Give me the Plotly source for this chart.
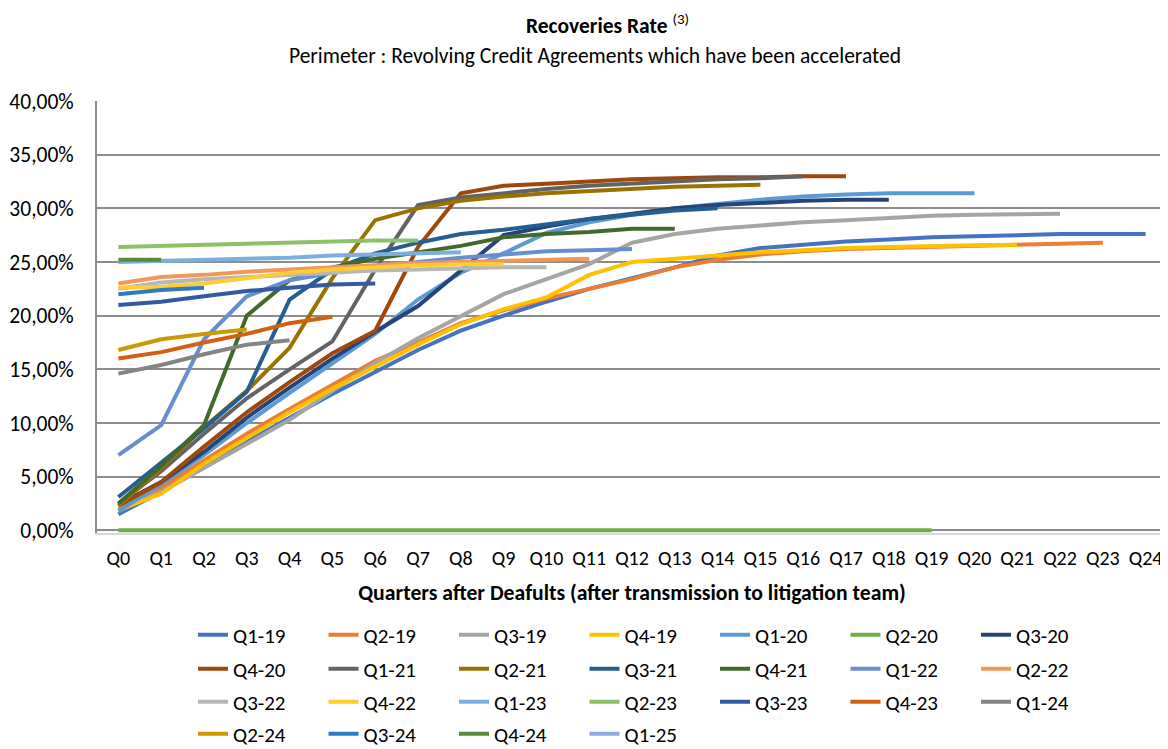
import plotly.graph_objects as go

quarters = [f"Q{i}" for i in range(25)]

series_names = ["Q1-19", "Q2-19", "Q3-19", "Q4-19", "Q1-20", "Q2-20", "Q3-20",
                "Q4-20", "Q1-21", "Q2-21", "Q3-21", "Q4-21", "Q1-22", "Q2-22",
                "Q3-22", "Q4-22", "Q1-23", "Q2-23", "Q3-23", "Q4-23", "Q1-24",
                "Q2-24", "Q3-24", "Q4-24", "Q1-25"]

series_colors = ["#4472C4", "#ED7D31", "#A5A5A5", "#FFC000", "#5B9BD5", "#70AD47", "#264478",
                 "#9E480E", "#636363", "#997300", "#255E91", "#43682B", "#698ED0", "#F1975A",
                 "#B7B7B7", "#FFCD33", "#7CAFDD", "#8CC168", "#335AA1", "#D26012", "#848484",
                 "#CC9A00", "#2E7BC4", "#5A8A3C", "#8FAADC"]

# Recovery rates in percent, one value per quarter after default
q1_19 = [1.5, 3.6, 6.0, 8.3, 10.5, 12.7, 14.8, 16.8, 18.6, 20.0, 21.3, 22.5, 23.5, 24.5, 25.6, 26.3, 26.6, 26.9, 27.1, 27.3, 27.4, 27.5, 27.6, 27.6, 27.6]
q2_19 = [2.0, 4.0, 6.5, 9.0, 11.3, 13.5, 15.8, 17.5, 19.3, 20.5, 21.6, 22.5, 23.4, 24.5, 25.2, 25.7, 26.0, 26.2, 26.3, 26.4, 26.5, 26.6, 26.7, 26.8]
q3_19 = [1.8, 3.6, 5.8, 8.0, 10.3, 13.0, 15.6, 17.9, 20.0, 22.0, 23.4, 24.8, 26.8, 27.6, 28.1, 28.4, 28.7, 28.9, 29.1, 29.3, 29.4, 29.45, 29.5]
q4_19 = [1.9, 3.4, 6.2, 8.6, 11.0, 13.2, 15.3, 17.3, 19.2, 20.6, 21.7, 23.8, 25.0, 25.3, 25.6, 25.9, 26.1, 26.3, 26.4, 26.5, 26.55, 26.6]
q1_20 = [1.8, 4.3, 7.0, 10.0, 12.8, 15.5, 18.3, 21.5, 24.0, 25.8, 27.7, 28.7, 29.4, 30.0, 30.4, 30.8, 31.1, 31.3, 31.4, 31.4, 31.4]
q2_20 = [0.0] * 20
q3_20 = [2.4, 4.5, 7.3, 10.5, 13.3, 16.0, 18.5, 20.9, 24.2, 27.5, 28.3, 29.0, 29.5, 30.0, 30.3, 30.5, 30.7, 30.8, 30.8]
q4_20 = [2.3, 4.5, 7.8, 11.0, 13.8, 16.5, 18.6, 26.4, 31.4, 32.1, 32.3, 32.5, 32.7, 32.8, 32.9, 32.9, 33.0, 33.0]
q1_21 = [2.5, 5.5, 9.0, 12.3, 15.0, 17.6, 24.3, 30.3, 31.0, 31.4, 31.8, 32.1, 32.3, 32.5, 32.7, 32.8, 33.0]
q2_21 = [2.3, 5.8, 9.6, 13.0, 17.0, 23.5, 28.9, 30.0, 30.7, 31.1, 31.4, 31.6, 31.8, 32.0, 32.1, 32.2]
q3_21 = [3.1, 6.3, 9.5, 12.9, 21.5, 24.3, 25.8, 26.8, 27.6, 28.0, 28.5, 29.0, 29.4, 29.8, 30.0]
q4_21 = [2.5, 6.0, 9.8, 20.0, 23.3, 24.5, 25.3, 25.9, 26.5, 27.3, 27.6, 27.8, 28.1, 28.1]
q1_22 = [7.0, 9.8, 17.8, 21.8, 23.3, 24.0, 24.5, 25.0, 25.4, 25.7, 26.0, 26.1, 26.2]
q2_22 = [23.0, 23.6, 23.8, 24.1, 24.3, 24.5, 24.7, 24.9, 25.0, 25.1, 25.2, 25.3]
q3_22 = [22.5, 23.1, 23.4, 23.6, 23.8, 24.0, 24.2, 24.3, 24.4, 24.5, 24.5]
q4_22 = [22.6, 22.7, 23.0, 23.5, 24.0, 24.3, 24.5, 24.7, 24.8, 24.8]
q1_23 = [25.0, 25.1, 25.2, 25.3, 25.4, 25.6, 25.7, 25.8, 25.9]
q2_23 = [26.4, 26.5, 26.6, 26.7, 26.8, 26.9, 27.0, 27.0]
q3_23 = [21.0, 21.3, 21.8, 22.3, 22.6, 22.9, 23.0]
q4_23 = [16.0, 16.6, 17.5, 18.3, 19.3, 19.9]
q1_24 = [14.6, 15.4, 16.4, 17.3, 17.7]
q2_24 = [16.8, 17.8, 18.3, 18.7]
q3_24 = [22.0, 22.4, 22.6]
q4_24 = [25.2, 25.2]
q1_25 = [2.0]

series_values = [q1_19, q2_19, q3_19, q4_19, q1_20, q2_20, q3_20, q4_20, q1_21, q2_21,
                 q3_21, q4_21, q1_22, q2_22, q3_22, q4_22, q1_23, q2_23, q3_23, q4_23,
                 q1_24, q2_24, q3_24, q4_24, q1_25]

FONT = "Carlito, Calibri, 'Liberation Sans', sans-serif"

# page body has an 8px margin: figure coordinates = window coordinates - 8
OFF = 8
W, H = 1160, 741
L, R, T = 89, 1, 93
Y_MIN, Y_MAX = -0.0025, 0.40
zero_px = 522                      # fig y of 0%
ph = (zero_px - T) * (Y_MAX - Y_MIN) / Y_MAX
B = round(H - T - ph)
ph = H - T - B
pw = W - L - R


def px_x(xw):
    return (xw - OFF - L) / pw


def px_y(yw):
    return (T + ph - (yw - OFF)) / ph


fig = go.Figure()
legend_layout = {}
row_y = [635, 669, 702, 734]
for i, (name, color, vals) in enumerate(zip(series_names, series_colors, series_values)):
    lid = "legend" if i == 0 else f"legend{i + 1}"
    fig.add_trace(go.Scatter(
        x=quarters[:len(vals)],
        y=[v / 100 for v in vals],
        name=name,
        mode="lines",
        line=dict(color=color, width=4),
        legend=lid,
    ))
    r, c = divmod(i, 7)
    legend_layout[lid] = dict(
        orientation="h", xanchor="left", yanchor="middle",
        x=px_x(193 + 130.5 * c), y=px_y(row_y[r]),
        font=dict(family=FONT, size=21, color="#000000"),
        bgcolor="rgba(0,0,0,0)", borderwidth=0,
    )

fig.update_layout(
    width=W, height=H,
    margin=dict(l=L, r=R, t=T, b=B, autoexpand=False),
    plot_bgcolor="white", paper_bgcolor="white",
    separators=", ",
    font=dict(family=FONT, size=20, color="#000000"),
    showlegend=True,
    **legend_layout,
    xaxis=dict(
        type="category",
        categoryorder="array", categoryarray=quarters,
        range=[-0.5, 24.5],
        showgrid=False, zeroline=False,
        showline=True, linecolor="#d9d9d9", linewidth=2,
        ticks="", ticklabelstandoff=6,
        tickfont=dict(family=FONT, size=20, color="#000000"),
        title=dict(text="<b>Quarters after Deafults (after transmission to litigation team)</b>",
                   font=dict(family=FONT, size=21.7, color="#000000"), standoff=16),
    ),
    yaxis=dict(
        range=[Y_MIN, Y_MAX], tickvals=[0, 0.05, 0.10, 0.15, 0.20, 0.25, 0.30, 0.35, 0.40],
        tickformat=".2%",
        showgrid=True, gridcolor="#8c8c8c", gridwidth=1.5,
        zeroline=False,
        showline=True, mirror=True, linecolor="#8c8c8c", linewidth=2,
        ticks="", ticklabelstandoff=17,
        tickfont=dict(family=FONT, size=21.5, color="#000000"),
    ),
    annotations=[
        dict(text="<b>Recoveries Rate</b> <sup>(3)</sup>", xref="paper", yref="paper",
             x=px_x(607), y=px_y(24), xanchor="center", yanchor="middle", showarrow=False,
             font=dict(family=FONT, size=21.5, color="#000000")),
        dict(text="Perimeter : Revolving Credit Agreements which have been accelerated",
             xref="paper", yref="paper",
             x=px_x(595), y=px_y(56), xanchor="center", yanchor="middle", showarrow=False,
             font=dict(family=FONT, size=21.5, color="#000000")),
    ],
)

fig.write_html("out.html")
